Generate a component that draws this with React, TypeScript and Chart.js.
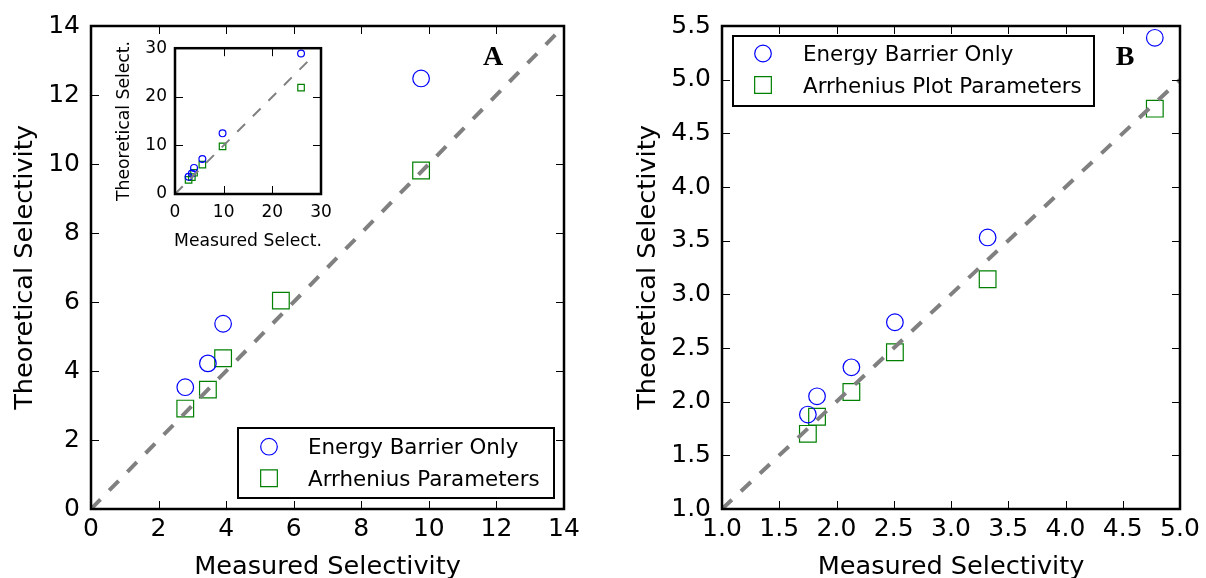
import React, { useEffect, useRef } from "react";
import { Chart, registerables } from "chart.js";

Chart.register(...registerables);

// ---- Panel A: measured vs. theoretical selectivity (zoomed range) ----
const energyMeasuredA = [2.79, 3.46, 3.91, 9.77];
const energyA = [3.53, 4.22, 5.37, 12.48];
const arrheniusMeasuredA = [2.79, 3.46, 3.91, 5.62, 9.77];
const arrheniusA = [2.91, 3.46, 4.37, 6.04, 9.81];
const parityA = [0, 14];
const ticksA = [0, 2, 4, 6, 8, 10, 12, 14];

// ---- Inset: full range of systems ----
const measuredInset = [2.79, 3.46, 3.91, 5.62, 9.77, 25.9];
const energyInset = [3.53, 4.22, 5.37, 7.2, 12.48, 28.9];
const arrheniusInset = [2.91, 3.46, 4.37, 6.04, 9.81, 21.9];
const parityInset = [0, 28];
const ticksInset = [0, 10, 20, 30];

// ---- Panel B ----
const measuredB = [1.75, 1.83, 2.13, 2.51, 3.32, 4.78];
const energyB = [1.88, 2.05, 2.32, 2.74, 3.53, 5.39];
const arrheniusB = [1.7, 1.86, 2.09, 2.46, 3.14, 4.73];
const parityB = [1, 5];
const ticksXB = [1.0, 1.5, 2.0, 2.5, 3.0, 3.5, 4.0, 4.5, 5.0];
const ticksYB = [1.0, 1.5, 2.0, 2.5, 3.0, 3.5, 4.0, 4.5, 5.0, 5.5];

const FONT = '"DejaVu Sans", sans-serif';
const BLUE = "#0000ff";
const GREEN = "#008000";
const GREY = "#808080";

type Area = { left: number; top: number; right: number; bottom: number };
type LegendItem = { label: string; style: "circle" | "rect"; color: string; y: number };
type LegendCfg = {
  box: Area;
  markerX: number;
  textX: number;
  fontSize: number;
  circleR: number;
  rectSide: number;
  items: LegendItem[];
};
type DecorCfg = {
  fillArea?: boolean;
  tickLen: number;
  frameWidth: number;
  xTitle: string;
  yTitle: string;
  titleSize: number;
  xTitleBaseline: number;
  yTitleBaseline: number;
  yTitleCenter?: number;
  letter?: { text: string; x: number; y: number };
  legend?: LegendCfg;
};

function drawMarker(ctx: CanvasRenderingContext2D, style: string, x: number, y: number, r: number, side: number, color: string, lw: number) {
  ctx.save();
  ctx.strokeStyle = color;
  ctx.lineWidth = lw;
  ctx.beginPath();
  if (style === "circle") ctx.arc(x, y, r, 0, Math.PI * 2);
  else ctx.rect(x - side / 2, y - side / 2, side, side);
  ctx.stroke();
  ctx.restore();
}

function decorPlugin(cfg: DecorCfg) {
  return {
    id: "panelDecor",
    beforeDatasetsDraw(chart: any) {
      if (!cfg.fillArea) return;
      const { ctx, chartArea: a } = chart;
      ctx.save();
      ctx.fillStyle = "#fff";
      ctx.fillRect(a.left, a.top, a.right - a.left, a.bottom - a.top);
      ctx.restore();
    },
    afterDraw(chart: any) {
      const { ctx, chartArea: a, scales } = chart;
      const L = cfg.tickLen;
      ctx.save();
      // inward tick marks on all four sides
      ctx.strokeStyle = "#000";
      ctx.lineWidth = 1;
      ctx.beginPath();
      for (const t of scales.x.ticks) {
        const p = Math.round(scales.x.getPixelForValue(t.value)) + 0.5;
        ctx.moveTo(p, a.bottom);
        ctx.lineTo(p, a.bottom - L);
        ctx.moveTo(p, a.top);
        ctx.lineTo(p, a.top + L);
      }
      for (const t of scales.y.ticks) {
        const p = Math.round(scales.y.getPixelForValue(t.value)) + 0.5;
        ctx.moveTo(a.left, p);
        ctx.lineTo(a.left + L, p);
        ctx.moveTo(a.right, p);
        ctx.lineTo(a.right - L, p);
      }
      ctx.stroke();
      // axes frame
      ctx.lineWidth = cfg.frameWidth;
      ctx.strokeRect(a.left, a.top, a.right - a.left, a.bottom - a.top);

      // axis titles
      ctx.fillStyle = "#000";
      ctx.font = `${cfg.titleSize}px ${FONT}`;
      ctx.textAlign = "center";
      ctx.textBaseline = "alphabetic";
      ctx.fillText(cfg.xTitle, (a.left + a.right) / 2, a.bottom + cfg.xTitleBaseline);
      ctx.save();
      const cy = cfg.yTitleCenter ?? (a.top + a.bottom) / 2;
      ctx.translate(cfg.yTitleBaseline, cy);
      ctx.rotate(-Math.PI / 2);
      ctx.fillText(cfg.yTitle, 0, 0);
      ctx.restore();

      // legend
      const lg = cfg.legend;
      if (lg) {
        const b = lg.box;
        ctx.fillStyle = "#fff";
        ctx.fillRect(b.left, b.top, b.right - b.left, b.bottom - b.top);
        ctx.strokeStyle = "#000";
        ctx.lineWidth = 2;
        ctx.strokeRect(b.left, b.top, b.right - b.left, b.bottom - b.top);
        ctx.font = `${lg.fontSize}px ${FONT}`;
        ctx.textAlign = "left";
        ctx.fillStyle = "#000";
        for (const it of lg.items) {
          drawMarker(ctx, it.style, lg.markerX, it.y, lg.circleR, lg.rectSide, it.color, 1.2);
          ctx.fillText(it.label, lg.textX, it.y + 7.5);
        }
      }

      // panel letter
      if (cfg.letter) {
        ctx.font = `bold 28px "Liberation Serif", "Times New Roman", serif`;
        ctx.textAlign = "center";
        ctx.fillStyle = "#000";
        ctx.fillText(cfg.letter.text, cfg.letter.x, cfg.letter.y);
      }
      ctx.restore();
    },
  };
}

type ChartCfg = {
  width: number;
  height: number;
  area: Area;
  xRange: [number, number];
  yRange: [number, number];
  xTicks: number[];
  yTicks: number[];
  fmt: (v: number) => string;
  tickSize: number;
  xPad: number;
  yPad: number;
  datasets: any[];
  decor: DecorCfg;
};

function pts(xs: number[], ys: number[]) {
  return xs.map((x, i) => ({ x, y: ys[i] }));
}

function markerSet(xs: number[], ys: number[], style: string, color: string, r: number) {
  return {
    data: pts(xs, ys),
    showLine: false,
    pointStyle: style,
    pointRadius: r,
    borderColor: color,
    backgroundColor: "rgba(0,0,0,0)",
    borderWidth: 1.2,
  };
}

function paritySet(range: number[], width: number, dash: number[]) {
  return {
    data: range.map((v) => ({ x: v, y: v })),
    showLine: true,
    pointRadius: 0,
    borderColor: GREY,
    borderWidth: width,
    borderDash: dash,
    fill: false,
  };
}

function buildChart(canvas: HTMLCanvasElement, c: ChartCfg) {
  const tickOpts = (pad: number) => ({
    font: { family: FONT, size: c.tickSize },
    color: "#000",
    padding: pad,
    autoSkip: false,
    maxRotation: 0,
    callback: (v: any) => c.fmt(Number(v)),
  });
  return new Chart(canvas, {
    type: "scatter",
    data: { datasets: c.datasets },
    plugins: [decorPlugin(c.decor)],
    options: {
      responsive: false,
      animation: false,
      events: [],
      devicePixelRatio: 1,
      layout: {
        padding: { left: 0, top: c.area.top, right: c.width - c.area.right, bottom: 0 },
      },
      plugins: { legend: { display: false }, tooltip: { enabled: false } },
      scales: {
        x: {
          type: "linear",
          min: c.xRange[0],
          max: c.xRange[1],
          grid: { display: false, drawTicks: false },
          border: { display: false },
          ticks: tickOpts(c.xPad),
          afterBuildTicks: (s: any) => {
            s.ticks = c.xTicks.map((v) => ({ value: v }));
          },
          afterFit: (s: any) => {
            s.height = c.height - c.area.bottom;
          },
        },
        y: {
          type: "linear",
          min: c.yRange[0],
          max: c.yRange[1],
          grid: { display: false, drawTicks: false },
          border: { display: false },
          ticks: tickOpts(c.yPad),
          afterBuildTicks: (s: any) => {
            s.ticks = c.yTicks.map((v) => ({ value: v }));
          },
          afterFit: (s: any) => {
            s.width = c.area.left;
          },
        },
      },
    } as any,
  });
}

export default function App() {
  const refA = useRef<HTMLCanvasElement>(null);
  const refInset = useRef<HTMLCanvasElement>(null);
  const refB = useRef<HTMLCanvasElement>(null);

  useEffect(() => {
    const charts: Chart[] = [];
    const intFmt = (v: number) => String(v);
    const oneDec = (v: number) => v.toFixed(1);

    charts.push(
      buildChart(refA.current!, {
        width: 603,
        height: 578,
        area: { left: 91, top: 25, right: 564, bottom: 509 },
        xRange: [0, 14],
        yRange: [0, 14],
        xTicks: ticksA,
        yTicks: ticksA,
        fmt: intFmt,
        tickSize: 25,
        xPad: 5,
        yPad: 11,
        datasets: [
          paritySet(parityA, 4, [13.5, 12.5]),
          markerSet(energyMeasuredA, energyA, "circle", BLUE, 8.3),
          markerSet(arrheniusMeasuredA, arrheniusA, "rect", GREEN, 11.8),
        ],
        decor: {
          tickLen: 8,
          frameWidth: 2.5,
          xTitle: "Measured Selectivity",
          yTitle: "Theoretical Selectivity",
          titleSize: 25.6,
          xTitleBaseline: 65,
          yTitleBaseline: 32,
          letter: { text: "A", x: 493, y: 65 },
          legend: {
            box: { left: 238, top: 428, right: 554, bottom: 498 },
            markerX: 269,
            textX: 308,
            fontSize: 21.4,
            circleR: 8.3,
            rectSide: 16.7,
            items: [
              { label: "Energy Barrier Only", style: "circle", color: BLUE, y: 446.7 },
              { label: "Arrhenius Parameters", style: "rect", color: GREEN, y: 478.3 },
            ],
          },
        },
      })
    );

    charts.push(
      buildChart(refInset.current!, {
        width: 240,
        height: 225,
        area: { left: 75, top: 14, right: 221, bottom: 164 },
        xRange: [0, 30],
        yRange: [0, 30],
        xTicks: ticksInset,
        yTicks: ticksInset,
        fmt: intFmt,
        tickSize: 17,
        xPad: 8,
        yPad: 8,
        datasets: [
          paritySet(parityInset, 2, [11, 11]),
          markerSet(measuredInset, energyInset, "circle", BLUE, 3.4),
          markerSet(measuredInset, arrheniusInset, "rect", GREEN, 4.6),
        ],
        decor: {
          fillArea: true,
          tickLen: 8,
          frameWidth: 2.5,
          xTitle: "Measured Select.",
          yTitle: "Theoretical Select.",
          titleSize: 17.2,
          xTitleBaseline: 52,
          yTitleBaseline: 29,
          yTitleCenter: 91,
        },
      })
    );

    charts.push(
      buildChart(refB.current!, {
        width: 603,
        height: 578,
        area: { left: 119, top: 25, right: 577, bottom: 509 },
        xRange: [1, 5],
        yRange: [1, 5.5],
        xTicks: ticksXB,
        yTicks: ticksYB,
        fmt: oneDec,
        tickSize: 25,
        xPad: 5,
        yPad: 11,
        datasets: [
          paritySet(parityB, 4, [13.5, 12.5]),
          markerSet(measuredB, energyB, "circle", BLUE, 8.3),
          markerSet(measuredB, arrheniusB, "rect", GREEN, 11.8),
        ],
        decor: {
          tickLen: 8,
          frameWidth: 2.5,
          xTitle: "Measured Selectivity",
          yTitle: "Theoretical Selectivity",
          titleSize: 25.6,
          xTitleBaseline: 65,
          yTitleBaseline: 52,
          letter: { text: "B", x: 522, y: 65 },
          legend: {
            box: { left: 130, top: 36, right: 491, bottom: 106 },
            markerX: 160,
            textX: 200,
            fontSize: 21.4,
            circleR: 8.3,
            rectSide: 16.7,
            items: [
              { label: "Energy Barrier Only", style: "circle", color: BLUE, y: 53.5 },
              { label: "Arrhenius Plot Parameters", style: "rect", color: GREEN, y: 85 },
            ],
          },
        },
      })
    );

    return () => charts.forEach((ch) => ch.destroy());
  }, []);

  return (
    <div style={{ position: "fixed", left: 0, top: 0, width: 1206, height: 578, background: "#fff" }}>
      <canvas ref={refA} width={603} height={578} style={{ position: "absolute", left: 0, top: 0 }} />
      <canvas ref={refInset} width={240} height={225} style={{ position: "absolute", left: 100, top: 30 }} />
      <canvas ref={refB} width={603} height={578} style={{ position: "absolute", left: 603, top: 0 }} />
    </div>
  );
}
